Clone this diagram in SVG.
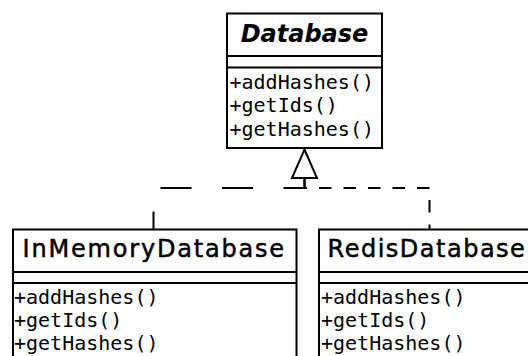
<svg xmlns="http://www.w3.org/2000/svg" width="528" height="356" viewBox="0 0 528 356">
  <style>
    .box { fill: #ffffff; stroke: #000000; stroke-width: 2; }
    .sep { stroke: #000000; stroke-width: 2; }
    .title { font-family: "DejaVu Sans", "Liberation Sans", sans-serif; font-size: 24px; fill: #000000; }
    .abstract { font-weight: bold; font-style: italic; }
    .concrete { letter-spacing: 1.8px; stroke: #000000; stroke-width: 0.5; }
    .op { font-family: "DejaVu Sans Mono", "Liberation Mono", monospace; font-size: 20px; fill: #000000; }
    .edge { fill: none; stroke: #000000; stroke-width: 2; }
    .head { fill: #ffffff; stroke: #000000; stroke-width: 2; stroke-linejoin: miter; }
  </style>
  <rect width="528" height="356" fill="#ffffff"/>

  <!-- realization connectors, both meeting under the hollow triangle -->
  <g id="connectors">
    <path class="edge" d="M304.5 178 V188 H153.5 V229.5" stroke-dasharray="31 30.5"/>
    <path class="edge" d="M304.5 178 V188 H429.5 V229.5" stroke-dasharray="12.5 12"/>
    <polygon class="head" points="304.5,149.5 317,178 292,178"/>
  </g>

  <!-- abstract base class -->
  <g id="Database">
    <rect class="box" x="227" y="13.5" width="155" height="134.5"/>
    <line class="sep" x1="227" y1="56" x2="382" y2="56"/>
    <line class="sep" x1="227" y1="67.5" x2="382" y2="67.5"/>
    <text class="title abstract" x="304.5" y="41.5" text-anchor="middle">Database</text>
    <text class="op" x="229.5" y="89">+addHashes()</text>
    <text class="op" x="229.5" y="112.3">+getIds()</text>
    <text class="op" x="229.5" y="135.6">+getHashes()</text>
  </g>

  <g id="InMemoryDatabase">
    <rect class="box" x="13" y="229.5" width="283.5" height="140"/>
    <line class="sep" x1="13" y1="272" x2="296.5" y2="272"/>
    <line class="sep" x1="13" y1="283" x2="296.5" y2="283"/>
    <text class="title concrete" x="22.6" y="257.3">InMemoryDatabase</text>
    <text class="op" x="14" y="303.5">+addHashes()</text>
    <text class="op" x="14" y="326.8">+getIds()</text>
    <text class="op" x="14" y="350.1">+getHashes()</text>
  </g>

  <g id="RedisDatabase">
    <rect class="box" x="319" y="229.5" width="222" height="140"/>
    <line class="sep" x1="319" y1="272" x2="541" y2="272"/>
    <line class="sep" x1="319" y1="283" x2="541" y2="283"/>
    <text class="title concrete" x="327.6" y="257.3" style="letter-spacing:1.5px">RedisDatabase</text>
    <text class="op" x="321" y="303.5">+addHashes()</text>
    <text class="op" x="321" y="326.8">+getIds()</text>
    <text class="op" x="321" y="350.1">+getHashes()</text>
  </g>
</svg>
